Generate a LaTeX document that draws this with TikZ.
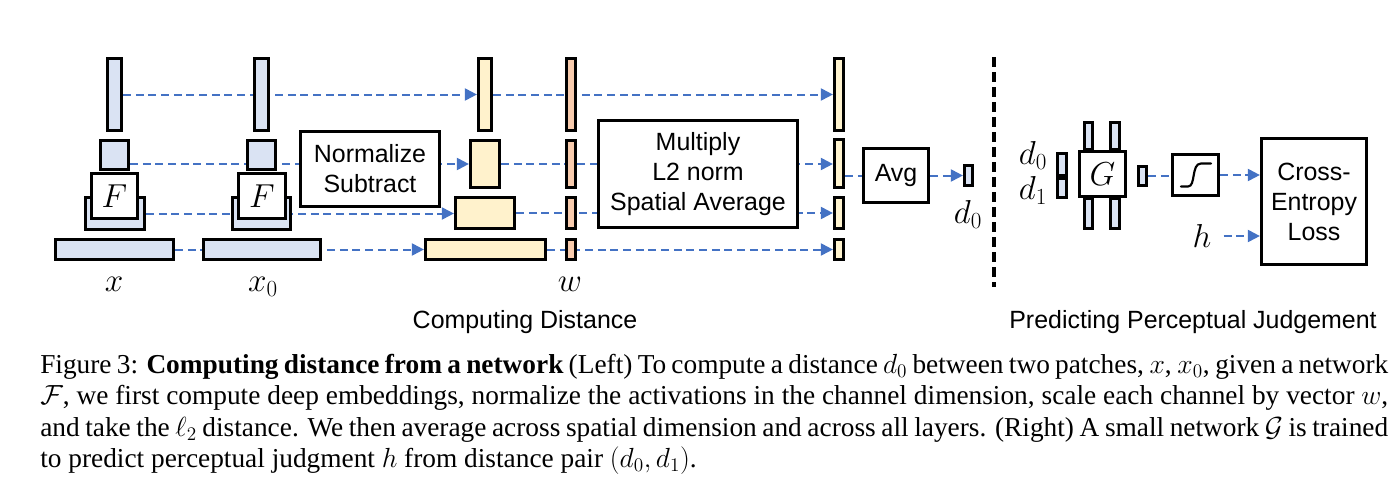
\documentclass[tikz,border=0pt]{standalone}
\usepackage{fontspec}
\setmainfont{Liberation Serif}
\newfontfamily\arial{Liberation Sans}
\usetikzlibrary{arrows.meta}
\definecolor{bfill}{HTML}{DAE3F3}
\definecolor{yfill}{HTML}{FFF2CC}
\definecolor{ofill}{HTML}{F8CBAD}
\definecolor{rfill}{HTML}{FFF4CF}
\definecolor{lblue}{HTML}{4472C4}
\pgfdeclarelayer{bg}
\pgfsetlayers{bg,main}
% name, x1, y1, x2, y2, style, text
\newcommand\bx[7]{\node[#6, minimum width={(#4-#2-3)*0.75pt}, minimum height={(#5-#3-3)*0.75pt}] (#1) at ({(#2+#4)/2},{(#3+#5)/2}) {#7};}
\begin{document}
\begin{tikzpicture}[x=0.75pt, y=-0.75pt,
  blk/.style={draw=black, line width=2.4pt, inner sep=0pt},
  bl/.style={blk, fill=bfill},
  yl/.style={blk, fill=yfill},
  ol/.style={blk, fill=ofill},
  rl/.style={blk, fill=rfill},
  wh/.style={blk, fill=white},
  proc/.style={blk, fill=white, align=center, font=\arial\fontsize{18.7}{22.5}\selectfont},
  lab/.style={inner sep=0pt, font=\arial\fontsize{18.7}{22.5}\selectfont},
  mlab/.style={inner sep=0pt, font=\fontsize{24}{28}\selectfont},
  conn/.style={draw=lblue, line width=1.5pt, dash pattern=on 6pt off 3.5pt},
  arr/.style={conn, -{Triangle[length=9pt, width=9pt]}},
  sepline/.style={draw=black, line width=2.3pt, dash pattern=on 7.5pt off 3.75pt}
]
\useasboundingbox (0,0) rectangle (1400,489);

% rows
\coordinate (r2) at (0,164);

% x column
\bx{xa1}{106}{57}{123}{132}{bl}{}
\bx{xa2}{99}{139}{130}{171}{bl}{}
\bx{xa3}{84}{196}{146}{231}{bl}{}
\bx{xF}{90}{172}{139}{220}{wh}{\fontsize{24}{28}\selectfont$F$}
\bx{xa4}{54}{238}{175}{261}{bl}{}
\node[mlab] (lx) at (114,284) {$x$};

% x0 column
\bx{xb1}{253}{57}{270}{132}{bl}{}
\bx{xb2}{246}{139}{277}{171}{bl}{}
\bx{xb3}{231}{196}{292}{231}{bl}{}
\bx{xbF}{237}{172}{287}{220}{wh}{\fontsize{24}{28}\selectfont$F$}
\bx{xb4}{202}{238}{322}{261}{bl}{}
\node[mlab] (lx0) at (263,287) {$x_0$};

% normalize
\bx{norm}{299}{130}{441}{208}{proc}{Normalize\\Subtract}

% yellow column
\bx{ya1}{477}{57}{493}{132}{yl}{}
\bx{ya2}{469}{139}{501}{189}{yl}{}
\bx{ya3}{454}{196}{516}{230}{yl}{}
\bx{ya4}{424}{238}{547}{261}{yl}{}

% w column
\bx{wa1}{565}{57}{577}{132}{ol}{}
\bx{wa2}{565}{139}{577}{189}{ol}{}
\bx{wa3}{565}{196}{577}{230}{ol}{}
\bx{wa4}{565}{238}{577}{261}{ol}{}
\node[mlab] (lw) at (570,284) {$w$};

% multiply
\bx{mult}{597}{119}{799}{229}{proc}{Multiply\\L2 norm\\Spatial Average}

% right column
\bx{ra1}{833}{57}{845}{132}{rl}{}
\bx{ra2}{833}{138}{845}{189}{rl}{}
\bx{ra3}{833}{196}{845}{230}{rl}{}
\bx{ra4}{833}{238}{845}{261}{rl}{}

% avg and d0
\bx{avg}{862}{147}{930}{204}{proc}{Avg}
\bx{dz}{963}{164}{974}{187}{bl}{}
\node[mlab] (ldz) at (968,214) {$d_0$};

% separator
\coordinate (septop) at (994,57);
\coordinate (sepbot) at (994,287);
\draw[sepline] (septop) -- (sepbot);

% right part
\node[mlab] (ld0) at (1033,155) {$d_0$};
\node[mlab] (ld1) at (1033,190) {$d_1$};
\bx{dd0}{1056}{152}{1068}{177}{bl}{}
\bx{dd1}{1056}{177}{1068}{199}{bl}{}
\bx{g1}{1083}{121}{1094}{151}{bl}{}
\bx{g2}{1109}{121}{1121}{151}{bl}{}
\bx{g3}{1083}{197}{1094}{230}{bl}{}
\bx{g4}{1109}{197}{1121}{230}{bl}{}
\bx{gbox}{1078}{150}{1127}{198}{wh}{\fontsize{24}{28}\selectfont$G$}
\bx{out}{1137}{165}{1148}{187}{bl}{}
\bx{sig}{1171}{153}{1220}{197}{wh}{}
\draw[line width=1.6pt, line cap=round] (1181,186.5) -- (1188,186.5) .. controls (1196,186.5) and (1191,163.5) .. (1201,163.5) -- (1211,163.5);
\bx{ce}{1260}{137}{1368}{266}{proc}{Cross-\\Entropy\\Loss}
\node[mlab] (h) at (1202,236) {$h$};

% section labels
\node[lab] (cd) at (525,322) {Computing Distance};
\node[lab] (ppj) at (1193,322) {Predicting Perceptual Judgement};

% connectors
\begin{pgfonlayer}{bg}
\draw[arr] (xa1.east) -- (xa1.east -| ya1.west);
\draw[arr] (ya1.east) -- (ya1.east -| ra1.west);
\draw[arr] (xa2.east |- r2) -- (ya2.west |- r2);
\draw[arr] (ya2.east |- r2) -- (ra2.west |- r2);
\draw[arr] (xa3.east) -- (xa3.east -| ya3.west);
\draw[arr] (ya3.east) -- (ya3.east -| ra3.west);
\draw[arr] (xa4.east) -- (xa4.east -| ya4.west);
\draw[arr] (ya4.east) -- (ya4.east -| ra4.west);
\draw[conn] (ra2.east |- avg.west) -- (avg.west);
\draw[arr] (avg.east) -- (avg.east -| dz.west);
\draw[conn] (out.east) -- (out.east -| sig.west);
\draw[arr] (sig.east) -- (sig.east -| ce.west);
\draw[arr] ([xshift=9pt]h.east) -- (h.east -| ce.west);
\end{pgfonlayer}

% caption
\begin{scope}[every node/.style={anchor=base west, inner sep=0pt, font=\fontsize{20.5}{24}\selectfont}]
\node (c1) at (40,373) {\makebox[1011pt][s]{Figure 3: \textbf{Computing distance from a network} (Left) To compute a distance $d_0$ between two patches, $x$, $x_0$, given a network}};
\node (c2) at (40,404.5) {\makebox[1011pt][s]{$\mathcal{F}$, we first compute deep embeddings, normalize the activations in the channel dimension, scale each channel by vector $w$,}};
\node (c3) at (40,436) {\makebox[1011pt][s]{and take the $\ell_2$ distance. We then average across spatial dimension and across all layers. (Right) A small network $\mathcal{G}$ is trained}};
\node (c4) at (40,467.5) {to predict perceptual judgment $h$ from distance pair $(d_0, d_1)$.};
\end{scope}
\end{tikzpicture}
\end{document}
